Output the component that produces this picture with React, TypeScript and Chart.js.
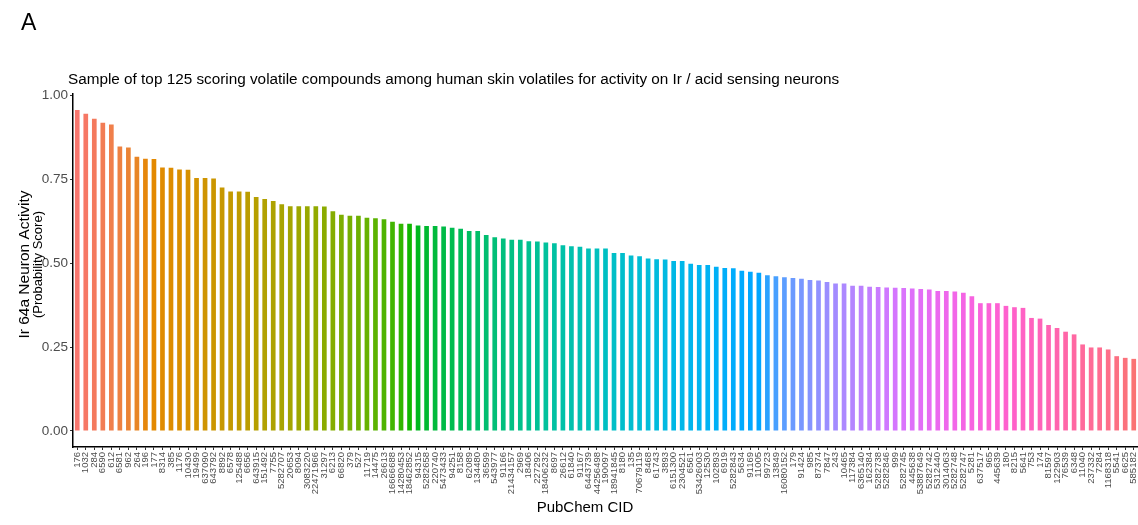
import React, { useEffect, useRef } from "react";
import { Chart, registerables } from "chart.js";

Chart.register(...registerables);

// PubChem compound IDs, ordered by score (highest first)
const cids = [
  "176", "1032", "284", "6590", "612", "6581", "962", "264", "196", "177",
  "8314", "385", "1176", "10430", "19499", "637090", "643792", "8892", "6578", "125488",
  "6656", "643915", "151492", "7755", "5282707", "20653", "8094", "3083220", "22471966", "31297",
  "6213", "66820", "379", "527", "11719", "14475", "26613", "16666688", "14280453", "18462852",
  "94315", "5282658", "220740", "5473433", "94251", "8158", "62089", "134480", "36599", "543977",
  "91166", "21434157", "2969", "18406", "227292", "18406232", "8697", "26612", "61840", "91167",
  "6443739", "44256498", "190097", "18941845", "8180", "135", "70679119", "8468", "61743", "3893",
  "6151300", "2304521", "6561", "53426003", "12530", "102893", "6919", "5282843", "5634", "91169",
  "11005", "99723", "13849", "16080152", "179", "91424", "985", "87374", "7847", "243",
  "10465", "117384", "6365140", "162384", "5282738", "5282846", "999", "5282745", "445638", "53887649",
  "5282742", "5312440", "3014063", "5282748", "5282747", "5281", "637517", "965", "445639", "180",
  "8215", "5641", "753", "174", "81597", "122903", "76539", "6348", "11040", "237332",
  "7284", "1168318", "5541", "6625", "585182",
];

// Ir 64a neuron activity (probability score)
const scores = [
  0.957, 0.946, 0.931, 0.919, 0.914, 0.848, 0.845, 0.818, 0.812, 0.811,
  0.786, 0.785, 0.780, 0.779, 0.754, 0.754, 0.753, 0.726, 0.714, 0.714,
  0.713, 0.698, 0.692, 0.686, 0.676, 0.670, 0.670, 0.670, 0.670, 0.669,
  0.655, 0.645, 0.642, 0.642, 0.636, 0.634, 0.631, 0.624, 0.618, 0.618,
  0.613, 0.611, 0.611, 0.610, 0.606, 0.603, 0.596, 0.596, 0.584, 0.578,
  0.574, 0.570, 0.570, 0.566, 0.565, 0.562, 0.560, 0.554, 0.551, 0.549,
  0.544, 0.544, 0.544, 0.531, 0.531, 0.523, 0.521, 0.514, 0.512, 0.511,
  0.507, 0.507, 0.499, 0.495, 0.495, 0.490, 0.486, 0.485, 0.478, 0.475,
  0.472, 0.464, 0.461, 0.458, 0.456, 0.454, 0.450, 0.449, 0.444, 0.440,
  0.440, 0.433, 0.433, 0.430, 0.429, 0.428, 0.427, 0.426, 0.425, 0.423,
  0.422, 0.417, 0.417, 0.416, 0.412, 0.402, 0.381, 0.381, 0.381, 0.373,
  0.369, 0.367, 0.337, 0.335, 0.316, 0.307, 0.296, 0.288, 0.258, 0.249,
  0.249, 0.243, 0.223, 0.218, 0.215,
];

const yTickValues = [0, 0.25, 0.5, 0.75, 1.0];

const panelLabel = "A";
const chartTitle =
  "Sample of top 125 scoring volatile compounds among human skin volatiles for activity on Ir / acid sensing neurons";
const yTitle = "Ir 64a Neuron Activity";
const ySubTitle = "(Probability Score)";
const xTitle = "PubChem CID";

const FONT = "'Liberation Sans', Arial, sans-serif";

// Polar Luv (HCL) -> sRGB, as used for the evenly spaced hue palette
function hcl(h: number, c: number, l: number): string {
  const WX = 95.047, WY = 100.0, WZ = 108.883;
  const hr = (h * Math.PI) / 180;
  const U = c * Math.cos(hr);
  const V = c * Math.sin(hr);
  const Y = WY * (l > 7.999592 ? Math.pow((l + 16) / 116, 3) : l / 903.3);
  const d = WX + 15 * WY + 3 * WZ;
  const un = (4 * WX) / d;
  const vn = (9 * WY) / d;
  const u = U / (13 * l) + un;
  const v = V / (13 * l) + vn;
  const X = (9 * Y * u) / (4 * v);
  const Z = -X / 3 - 5 * Y + (3 * Y) / v;
  const gam = (t: number) => {
    const s = t > 0.00304 ? 1.055 * Math.pow(t, 1 / 2.4) - 0.055 : 12.92 * t;
    return Math.round(255 * Math.min(1, Math.max(0, s)));
  };
  const r = gam((3.240479 * X - 1.53715 * Y - 0.498535 * Z) / WY);
  const g = gam((-0.969256 * X + 1.875992 * Y + 0.041556 * Z) / WY);
  const b = gam((0.055648 * X - 0.204043 * Y + 1.057311 * Z) / WY);
  return `rgb(${r},${g},${b})`;
}

function huePalette(n: number): string[] {
  const out: string[] = [];
  for (let i = 0; i < n; i++) {
    const h = (15 + (360 / n) * i) % 360;
    out.push(hcl(h, 100, 65));
  }
  return out;
}

const textPlugin = {
  id: "figureText",
  afterDraw(chart: any) {
    const { ctx, chartArea } = chart;
    ctx.save();
    ctx.fillStyle = "#000";

    ctx.font = `23px ${FONT}`;
    ctx.textAlign = "left";
    ctx.textBaseline = "alphabetic";
    ctx.fillText(panelLabel, 21, 30);

    ctx.font = `15.3px ${FONT}`;
    ctx.fillText(chartTitle, 68, 84);

    const midY = (chartArea.top + chartArea.bottom) / 2 - 6;
    ctx.save();
    ctx.translate(25, midY);
    ctx.rotate(-Math.PI / 2);
    ctx.textAlign = "center";
    ctx.textBaseline = "middle";
    ctx.font = `15.5px ${FONT}`;
    ctx.fillText(yTitle, 0, 0);
    ctx.restore();

    ctx.save();
    ctx.translate(38, midY);
    ctx.rotate(-Math.PI / 2);
    ctx.textAlign = "center";
    ctx.textBaseline = "middle";
    ctx.font = `13px ${FONT}`;
    ctx.fillText(ySubTitle, 0, 0);
    ctx.restore();

    ctx.font = `15px ${FONT}`;
    ctx.textAlign = "center";
    ctx.textBaseline = "middle";
    ctx.fillText(xTitle, 585, 508);
    ctx.restore();
  },
};

export default function App() {
  const canvasRef = useRef<HTMLCanvasElement | null>(null);

  useEffect(() => {
    const canvas = canvasRef.current;
    if (!canvas) return;
    const colors = huePalette(scores.length);
    const yMax = Math.max(...scores);

    const chart = new Chart(canvas, {
      type: "bar",
      data: {
        labels: cids,
        datasets: [
          {
            data: scores,
            backgroundColor: colors,
            borderWidth: 0,
            barPercentage: 0.55,
            categoryPercentage: 1,
          },
        ],
      },
      options: {
        responsive: false,
        animation: false,
        events: [],
        layout: { padding: { top: 94, left: 0, right: 0, bottom: 0 } },
        plugins: {
          legend: { display: false },
          tooltip: { enabled: false },
          title: { display: false },
        },
        scales: {
          x: {
            type: "category",
            offset: true,
            grid: {
              display: true,
              drawOnChartArea: false,
              drawTicks: true,
              tickLength: 3,
              tickWidth: 1,
              color: "#333333",
              offset: false,
            },
            border: { display: true, color: "#000", width: 1.5 },
            ticks: {
              autoSkip: false,
              minRotation: 90,
              maxRotation: 90,
              padding: 2,
              color: "#4D4D4D",
              font: { family: FONT, size: 9.5 },
            },
            afterFit(scale: any) {
              scale.height = 78;
              scale.paddingLeft = 0;
              scale.paddingRight = 0;
            },
          },
          y: {
            min: -0.05 * yMax,
            max: yMax * 1.05,
            grid: {
              display: true,
              drawOnChartArea: false,
              drawTicks: true,
              tickLength: 3,
              color: "#333333",
            },
            border: { display: true, color: "#000", width: 1.5 },
            ticks: {
              padding: 2,
              color: "#4D4D4D",
              font: { family: FONT, size: 13.5 },
              callback: (v: any) => Number(v).toFixed(2),
            },
            afterBuildTicks(scale: any) {
              scale.ticks = yTickValues.map((value) => ({ value }));
            },
            afterFit(scale: any) {
              scale.width = 73;
              scale.paddingTop = 0;
              scale.paddingBottom = 0;
            },
          },
        },
      },
      plugins: [textPlugin],
    });

    return () => chart.destroy();
  }, []);

  return (
    <div style={{ position: "absolute", left: 0, top: 0, width: 1138, height: 525, background: "#fff" }}>
      <canvas ref={canvasRef} width={1138} height={525} />
    </div>
  );
}
